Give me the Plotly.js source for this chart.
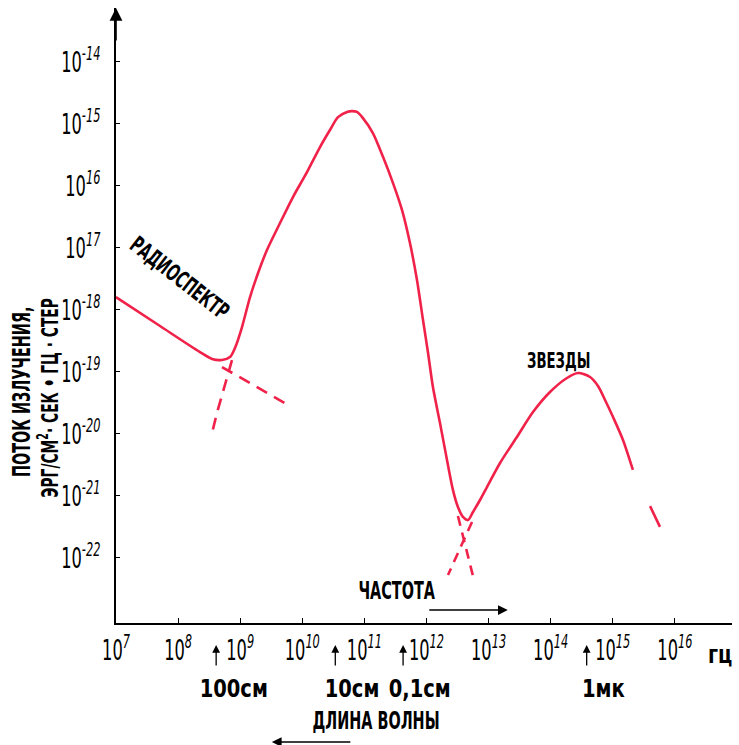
<!DOCTYPE html>
<html>
<head>
<meta charset="utf-8">
<script src="https://cdn.plot.ly/plotly-3.0.1.min.js"></script>
<style>
  html, body { margin: 0; padding: 0; background: #fff; }
  #chart { width: 739px; height: 745px; }
</style>
</head>
<body>
<div id="chart"></div>
<script>
// Spectrum of radiation flux: radio tail, dust peak and stellar peak (log-log)
const freq = [1.00e7, 5.12e7, 2.25e8, 3.52e8, 5.09e8, 6.85e8, 8.24e8, 1.07e9, 1.44e9,
  1.94e9, 2.70e9, 4.38e9, 7.08e9, 1.19e10, 1.93e10, 2.79e10, 3.76e10, 5.25e10, 6.31e10,
  7.60e10, 9.48e10, 1.37e11, 2.00e11, 2.89e11, 4.04e11, 5.42e11, 7.03e11, 8.79e11,
  1.06e12, 1.27e12, 1.65e12, 2.14e12, 2.67e12, 3.21e12, 3.87e12, 4.66e12, 5.61e12,
  7.28e12, 9.42e12, 1.53e13, 2.86e13, 5.19e13, 9.75e13, 1.83e14, 2.75e14, 4.30e14,
  5.78e14, 7.78e14, 1.01e15, 1.46e15, 2.11e15];
const flux = [1.61e-18, 5.50e-19, 2.09e-19, 1.62e-19, 1.56e-19, 1.74e-19, 2.43e-19, 5.30e-19, 1.61e-18,
  3.94e-18, 9.25e-18, 2.52e-17, 6.62e-17, 1.67e-16, 4.24e-16, 7.98e-16, 1.29e-15, 1.56e-15, 1.61e-15,
  1.56e-15, 1.24e-15, 7.13e-16, 2.92e-16, 1.11e-16, 4.08e-17, 1.20e-17, 3.03e-18, 6.87e-19,
  2.02e-19, 5.70e-20, 1.50e-20, 3.79e-21, 1.24e-21, 6.62e-22, 4.57e-22, 4.08e-22, 5.50e-22,
  8.59e-22, 1.39e-21, 3.40e-21, 8.91e-21, 2.25e-20, 4.74e-20, 7.98e-20, 9.59e-20, 8.28e-20,
  5.93e-20, 3.27e-20, 1.87e-20, 7.98e-21, 2.62e-21];

// Dashed extrapolations of the individual components
const radioTailFreq = [5.09e8, 5.89e9];
const radioTailFlux = [1.20e-19, 2.92e-20];
const dustLowFreq = [7.38e8, 5.69e8, 4.23e8, 3.52e8];
const dustLowFlux = [1.55e-19, 6.17e-20, 2.19e-20, 1.03e-20];
const dustHighFreq = [3.21e12, 5.82e12];
const dustHighFlux = [4.74e-22, 4.41e-23];
const starsLowFreq = [5.41e12, 2.22e12];
const starsLowFlux = [3.80e-22, 5.30e-23];
const starsHighFreq = [2.11e15, 5.75e15];
const starsHighFlux = [2.62e-21, 3.16e-22];

// Axis ticks
const xTickVals = [1e7, 1e8, 1e9, 1e10, 1e11, 1e12, 1e13, 1e14, 1e15, 1e16];
const xTickText = ['7', '8', '9', '10', '11', '12', '13', '14', '15', '16'];
const yTickVals = [1e-14, 1e-15, 1e-16, 1e-17, 1e-18, 1e-19, 1e-20, 1e-21, 1e-22];
const yTickText = ['-14', '-15', '16', '17', '-18', '-19', '-20', '-21', '-22'];

// Wavelength markers under the frequency axis
const waveFreq = [4.1e8, 3.4e10, 4.2e11, 3.8e14];
const waveLabels = ['100см', '10см', '0,1см', '1мк'];

const RED = '#f0224a';
const FONT = 'DejaVu Sans, sans-serif';

const sup = s => '10<sup><i>' + s + '</i></sup>';

const lineTrace = (x, y, dash) => ({
  type: 'scatter', mode: 'lines', x: x, y: y, hoverinfo: 'skip', showlegend: false,
  line: { color: RED, width: 2.6, dash: dash || 'solid', shape: dash ? 'linear' : 'spline', smoothing: 0.8 }
});

const traces = [
  lineTrace(freq, flux),
  lineTrace(radioTailFreq, radioTailFlux, '12px,8px'),
  lineTrace(dustLowFreq, dustLowFlux, '12px,8px'),
  lineTrace(dustHighFreq, dustHighFlux, '10px,7px'),
  lineTrace(starsLowFreq, starsLowFlux, '10px,7px'),
  lineTrace(starsHighFreq, starsHighFlux, '0px,40px,30px,100px')
];

const bold = size => ({ family: FONT, size: size, color: '#000', weight: 'bold' });
const label = (o) => Object.assign({ showarrow: false, xanchor: 'center', yanchor: 'middle' }, o);
const arrow = (o) => Object.assign({ text: '', showarrow: true, arrowhead: 2, arrowcolor: '#000' }, o);

const annotations = [
  // arrowhead on the flux axis
  arrow({ xref: 'paper', yref: 'paper', x: 0, y: 1, ax: 0, ay: 34, arrowsize: 1.6, arrowwidth: 1.6 }),
  // curve labels
  label({ xref: 'x', yref: 'y', x: 8.03, y: -17.49, text: 'РАДИОСПЕКТР', textangle: 38, font: bold(23) }),
  label({ xref: 'x', yref: 'y', x: 14.13, y: -18.81, text: 'ЗВЕЗДЫ', font: bold(22) }),
  label({ xref: 'x', yref: 'y', x: 11.52, y: -22.53, text: 'ЧАСТОТА', font: bold(24) }),
  // frequency direction arrow
  arrow({ xref: 'paper', yref: 'paper', x: 0.636, y: 0.021, ax: -80, ay: 0, arrowsize: 1.3, arrowwidth: 1.5 }),
  // unit of the frequency axis
  label({ xref: 'paper', yref: 'paper', x: 0.98, y: -0.052, text: 'гц', font: bold(24) }),
  // flux axis title, two rotated lines
  label({ xref: 'paper', yref: 'paper', x: -0.1526, y: 0.3756, text: 'ПОТОК ИЗЛУЧЕНИЯ,', textangle: -90, font: bold(24) }),
  label({ xref: 'paper', yref: 'paper', x: -0.11, y: 0.366, text: 'ЭРГ/СМ<sup>2</sup>· СЕК • ГЦ · СТЕР', textangle: -90, font: bold(23) }),
  // wavelength caption and its direction arrow
  label({ xref: 'paper', yref: 'paper', x: 0.422, y: -0.159, text: 'ДЛИНА ВОЛНЫ', font: bold(24) }),
  arrow({ xref: 'paper', yref: 'paper', x: 0.253, y: -0.1935, ax: 80, ay: 0, arrowsize: 1.3, arrowwidth: 1.5 })
];

waveFreq.forEach((f, i) => {
  const lx = Math.log10(f);
  annotations.push(arrow({ xref: 'x', yref: 'paper', x: lx, y: -0.0358, ax: 0, ay: 22, arrowsize: 1.2, arrowwidth: 1.3 }));
  annotations.push(label({ xref: 'x', yref: 'paper', x: lx, y: -0.1057, xshift: 17, text: waveLabels[i], font: bold(25) }));
});

const layout = {
  width: 739, height: 745,
  margin: { l: 116, r: 7, t: 8, b: 122 },
  paper_bgcolor: '#fff', plot_bgcolor: '#fff',
  showlegend: false,
  xaxis: {
    type: 'log', range: [7, 16.92],
    showgrid: false, zeroline: false,
    showline: true, linecolor: '#000', linewidth: 2,
    ticks: 'inside', ticklen: 5, tickwidth: 1, tickcolor: '#000',
    tickmode: 'array', tickvals: xTickVals, ticktext: xTickText.map(sup),
    tickfont: { family: FONT, size: 28, color: '#000' },
    tickangle: 0,
    ticklabelstandoff: 1
  },
  yaxis: {
    type: 'log', range: [-23.05, -13.13],
    showgrid: false, zeroline: false,
    showline: true, linecolor: '#000', linewidth: 2,
    ticks: 'inside', ticklen: 4, tickwidth: 1, tickcolor: '#000',
    tickmode: 'array', tickvals: yTickVals, ticktext: yTickText.map(sup),
    tickfont: { family: FONT, size: 28, color: '#000' },
    ticklabelstandoff: 8
  },
  annotations: annotations
};

// Narrow lettering: compress each text horizontally around its anchor
const narrowText = {
  '100см': 0.78, '10см': 0.78, '0,1см': 0.78, '1мк': 0.78, 'гц': 0.8
};
function squeezeLength(t, f) {
  const len = t.getComputedTextLength();
  if (len > 0) {
    t.setAttribute('textLength', (len * f).toFixed(1));
    t.setAttribute('lengthAdjust', 'spacingAndGlyphs');
  }
}
function squeezeScale(t, f) {
  const x = parseFloat(t.getAttribute('x')) || 0;
  const tr = t.getAttribute('transform') || '';
  t.setAttribute('transform', tr + ' translate(' + x + ',0) scale(' + f + ',1) translate(' + (-x) + ',0)');
}
function condense(gd) {
  gd.querySelectorAll('.xtick text, .ytick text').forEach(t => squeezeScale(t, 0.58));
  gd.querySelectorAll('.annotation-text').forEach(t => squeezeLength(t, narrowText[t.textContent] || 0.6));
}

Plotly.newPlot('chart', traces, layout, { staticPlot: true, displayModeBar: false }).then(condense);
</script>
</body>
</html>
